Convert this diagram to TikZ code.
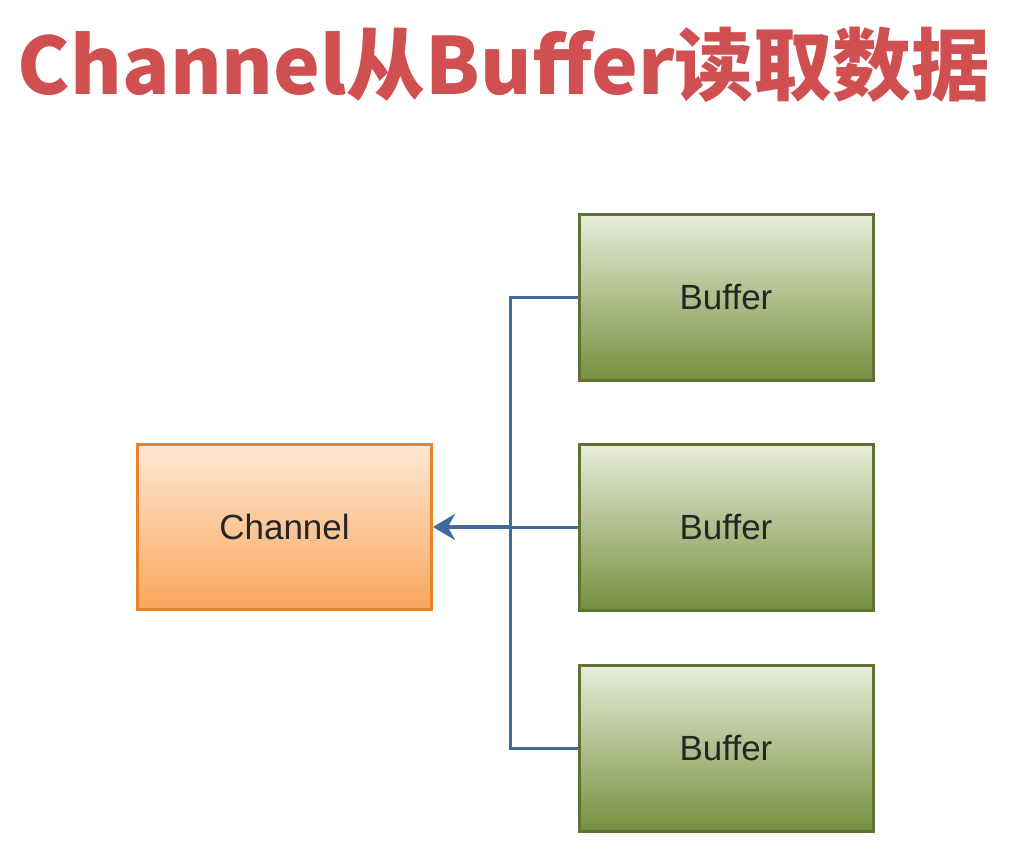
\documentclass[tikz,border=0pt]{standalone}
\usepackage{fontspec}
\setmainfont{Liberation Sans}
\newfontfamily\cjk{Noto Sans CJK SC}
\usetikzlibrary{arrows.meta}
\definecolor{titlered}{RGB}{208,80,82}
\definecolor{orgtop}{RGB}{253,232,212}
\definecolor{orgbot}{RGB}{250,166,92}
\definecolor{orgline}{RGB}{234,130,42}
\definecolor{grntop}{RGB}{232,237,218}
\definecolor{grnbot}{RGB}{118,143,62}
\definecolor{grnline}{RGB}{96,114,50}
\definecolor{linkblue}{RGB}{62,106,158}
\tikzset{
  chanbox/.style={draw=orgline, line width=3pt, top color=orgtop, bottom color=orgbot,
    minimum width=294pt, minimum height=165pt, font=\fontsize{35}{40}\selectfont, text=black!85},
  bufbox/.style={draw=grnline, line width=3pt, top color=grntop, bottom color=grnbot,
    minimum width=294pt, minimum height=166pt, font=\fontsize{35}{40}\selectfont, text=black!85},
  link/.style={draw=linkblue, line width=3pt},
  mainlink/.style={draw=linkblue, line width=4pt, -{Stealth[length=22pt,width=26pt]}}
}
\begin{document}
\begin{tikzpicture}[x=1pt,y=-1pt]
\useasboundingbox (0,0) rectangle (1015,859);
\node[anchor=base, text=titlered] (title) at (504,95)
  {\resizebox{972pt}{!}{\cjk\bfseries Channel从Buffer读取数据}};
\node[chanbox] (ch) at (284.5,527) {Channel};
\node[bufbox] (b1) at (726,297) {Buffer};
\node[bufbox] (b2) at (726,527) {Buffer};
\node[bufbox] (b3) at (726,748) {Buffer};
\coordinate (j1) at (510,297);
\coordinate (j3) at (510,748);
\coordinate (j2) at (510,527);
\draw[link] (b1.west) -- (j1) -- (j3) -- (b3.west);
\draw[link] (b2.west) -- (j2);
\draw[mainlink] (j2) -- (ch.east);
\end{tikzpicture}
\end{document}
